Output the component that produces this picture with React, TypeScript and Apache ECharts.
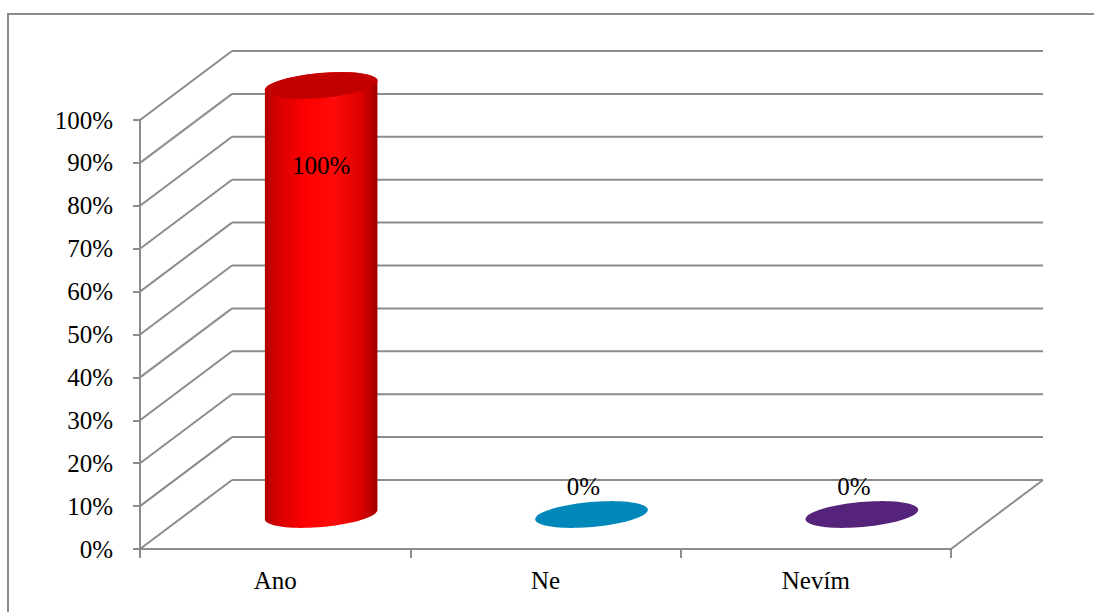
import React, { useEffect, useRef } from "react";
import * as echarts from "echarts";

// Survey answers and their shares (in %)
const categories = ["Ano", "Ne", "Nevím"];
const values = [100, 0, 0];
const yTicks = [0, 10, 20, 30, 40, 50, 60, 70, 80, 90, 100];

// Cylinder colours: side shading stops and top face per answer
const sideColors = [
  ["#b00000", "#d80000", "#ff0000", "#ff0a0a", "#dc0000", "#a40000"],
  ["#006f99", "#0080b0", "#0092c6", "#0092c6", "#0080b0", "#006a92"],
  ["#441860", "#4f1f72", "#5d2884", "#5d2884", "#4f1f72", "#40165a"],
];
const topColors = ["#c20000", "#0088ba", "#55237a"];

// Perspective of the 3D box (back wall offset) and cylinder shape
const DX = 92;
const DY = -69;
const RX = 56.5;
const RY = 12.5;
const TILT = (-5 * Math.PI) / 180;
const GRID_COLOR = "#8c8c8c";
const FONT_FAMILY = '"Liberation Serif", "Times New Roman", serif';
const FONT_SIZE = 25;

function ellipsePoint(cx: number, cy: number, t: number): number[] {
  const c = Math.cos(TILT);
  const s = Math.sin(TILT);
  const ex = RX * Math.cos(t);
  const ey = RY * Math.sin(t);
  return [cx + ex * c - ey * s, cy + ex * s + ey * c];
}

function arcPoints(cx: number, cy: number, t0: number, t1: number, n: number): number[][] {
  const pts: number[][] = [];
  for (let i = 0; i <= n; i++) {
    pts.push(ellipsePoint(cx, cy, t0 + ((t1 - t0) * i) / n));
  }
  return pts;
}

export default function App() {
  const ref = useRef<HTMLDivElement>(null);

  useEffect(() => {
    if (!ref.current) return;
    const chart = echarts.init(ref.current, null, { renderer: "svg" });

    const lineStyle = { stroke: GRID_COLOR, lineWidth: 2 };

    chart.setOption({
      animation: false,
      backgroundColor: "#ffffff",
      graphic: [
        {
          type: "rect",
          shape: { x: 8, y: 14, width: 1200, height: 700 },
          style: { fill: "none", stroke: GRID_COLOR, lineWidth: 2 },
          silent: true,
        },
      ],
      grid: { left: 140, right: 143, top: 120, bottom: 63, containLabel: false },
      xAxis: {
        type: "category",
        data: categories,
        boundaryGap: true,
        axisLine: { show: true, lineStyle: { color: GRID_COLOR, width: 2 } },
        axisTick: { show: true, length: 9, lineStyle: { color: GRID_COLOR, width: 2 } },
        axisLabel: {
          color: "#000000",
          fontFamily: FONT_FAMILY,
          fontSize: FONT_SIZE,
          margin: 19,
        },
        splitLine: { show: false },
      },
      yAxis: {
        type: "value",
        min: 0,
        max: 100,
        interval: 10,
        axisLine: { show: true, lineStyle: { color: GRID_COLOR, width: 2 } },
        axisTick: { show: true, length: 7, lineStyle: { color: GRID_COLOR, width: 2 } },
        axisLabel: {
          formatter: "{value}%",
          color: "#000000",
          fontFamily: FONT_FAMILY,
          fontSize: FONT_SIZE,
          margin: 27,
        },
        splitLine: { show: false },
      },
      series: [
        {
          // side wall diagonals, back wall lines and floor edge
          type: "custom",
          clip: false,
          silent: true,
          z: 1,
          data: yTicks.map((v) => [0, v]),
          renderItem: (params: any, api: any) => {
            const cs = params.coordSys;
            const v = api.value(1);
            const y = api.coord([0, v])[1];
            const x0 = cs.x;
            const x1 = cs.x + cs.width;
            const children: any[] = [
              { type: "line", shape: { x1: x0, y1: y, x2: x0 + DX, y2: y + DY }, style: lineStyle },
              { type: "line", shape: { x1: x0 + DX, y1: y + DY, x2: x1 + DX, y2: y + DY }, style: lineStyle },
            ];
            if (v === 0) {
              children.push({
                type: "line",
                shape: { x1: x1, y1: y, x2: x1 + DX, y2: y + DY },
                style: lineStyle,
              });
            }
            return { type: "group", children };
          },
        },
        {
          // cylinders standing in the middle of the box depth
          type: "custom",
          clip: false,
          z: 3,
          data: values.map((v, i) => [i, v]),
          renderItem: (params: any, api: any) => {
            const i = params.dataIndex;
            const v = api.value(1);
            const base = api.coord([api.value(0), 0]);
            const top = api.coord([api.value(0), v]);
            const cx = base[0] + DX / 2;
            const by = base[1] + DY / 2;
            const ty = top[1] + DY / 2;
            const children: any[] = [];
            if (by - ty > 0.5) {
              const pts = [
                ...arcPoints(cx, by, Math.PI, 0, 40),
                ...arcPoints(cx, ty, 0, -Math.PI, 40),
              ];
              const stops = sideColors[i];
              children.push({
                type: "polygon",
                shape: { points: pts },
                style: {
                  fill: new echarts.graphic.LinearGradient(1, 0, 0, 0, [
                    { offset: 0, color: stops[5] },
                    { offset: 0.15, color: stops[4] },
                    { offset: 0.38, color: stops[3] },
                    { offset: 0.62, color: stops[2] },
                    { offset: 0.88, color: stops[1] },
                    { offset: 1, color: stops[0] },
                  ]),
                },
              });
            }
            children.push({
              type: "polygon",
              shape: { points: arcPoints(cx, ty, 0, 2 * Math.PI, 80) },
              style: { fill: topColors[i] },
            });
            const inside = v > 0;
            children.push({
              type: "text",
              style: {
                text: `${v}%`,
                x: inside ? cx : cx - 8,
                y: inside ? ty + 80 : ty - 28,
                fill: "#000000",
                font: `${FONT_SIZE}px ${FONT_FAMILY}`,
                align: "center",
                verticalAlign: "middle",
                textAlign: "center",
                textVerticalAlign: "middle",
              },
              z2: 10,
            });
            return { type: "group", children };
          },
        },
      ],
    });

    return () => chart.dispose();
  }, []);

  return (
    <div
      ref={ref}
      style={{ position: "fixed", left: 0, top: 0, width: 1094, height: 612, background: "#fff" }}
    />
  );
}
